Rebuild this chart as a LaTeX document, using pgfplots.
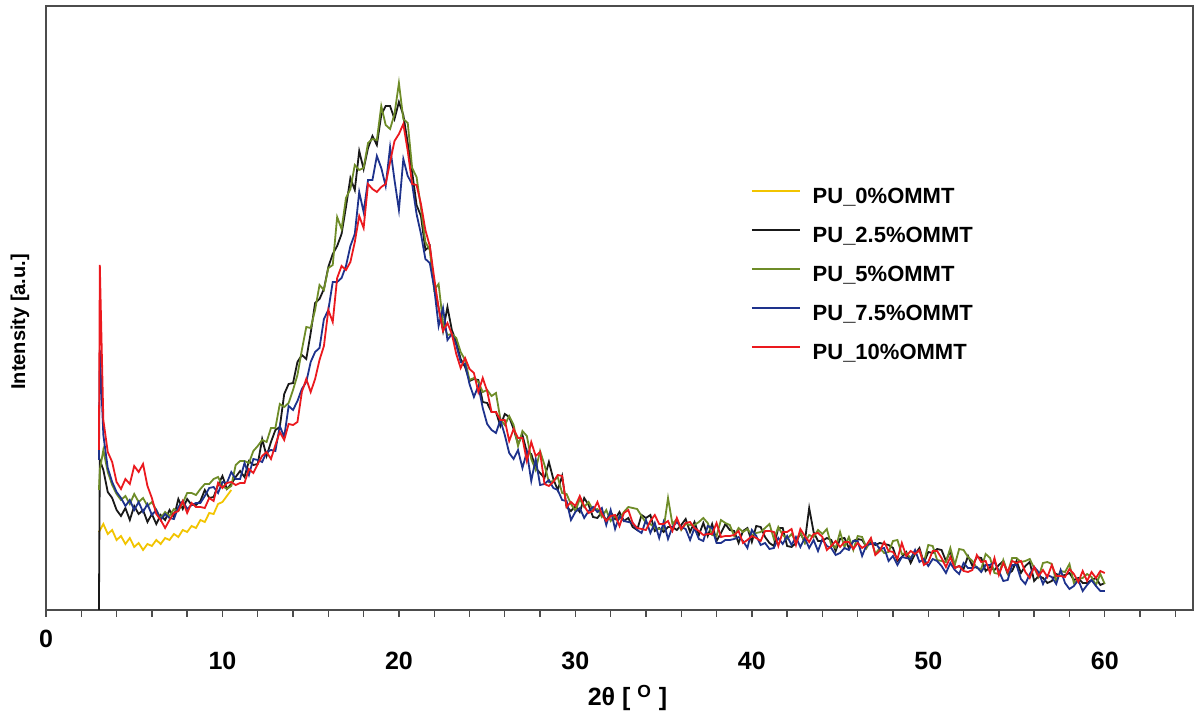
\documentclass[border=0pt]{standalone}
\usepackage{fontspec}
\setmainfont{Liberation Sans}
\usepackage{pgfplots}
\usepackage{pgfplotstable}
\pgfplotsset{compat=1.18}
\definecolor{cYel}{RGB}{242,196,0}
\definecolor{cBlk}{RGB}{25,25,25}
\definecolor{cGrn}{RGB}{110,140,40}
\definecolor{cBlu}{RGB}{30,50,140}
\definecolor{cRed}{RGB}{235,25,30}

\pgfplotstableread{
x y
3.00 78
3.25 86
3.50 76
3.75 80
4.00 70
4.25 74
4.50 66
4.75 72
5.00 63
5.25 67
5.50 60
5.75 66
6.00 64
6.25 70
6.50 66
6.75 72
7.00 70
7.25 76
7.50 73
7.75 80
8.00 78
8.25 84
8.50 82
8.75 90
9.00 88
9.25 97
9.50 96
9.75 106
10.00 108
10.25 114
10.50 120
}\yellowdata

\pgfplotstableread{
x blk grn blu red
3.00 0 120 150 160
3.05 150 140 260 345
3.25 140 160 175 190
3.50 118 138 142 158
3.75 112 125 128 148
4.00 100 116 118 128
4.25 94 110 112 121
4.50 102 114 104 131
4.75 90 106 110 126
5.00 104 116 100 144
5.25 96 108 108 138
5.50 100 112 98 146
5.75 88 104 106 124
6.00 96 108 95 112
6.25 86 100 100 96
6.50 95 92 90 90
6.75 90 98 96 82
7.00 100 94 92 90
7.25 93 101 91 97
7.50 111 99 103 99
7.75 101 107 109 109
8.00 111 117 101 97
8.25 105 117 105 107
8.50 105 115 107 103
8.75 109 121 107 103
9.00 120 126 114 102
9.25 112 126 122 112
9.50 113 131 123 109
9.75 125 133 117 127
10.00 134 124 128 122
10.25 121 121 127 127
10.50 126 124 138 128
10.75 133 145 131 125
11.00 139 149 131 127
11.25 133 149 147 127
11.50 149 147 135 141
11.75 145 159 151 137
12.00 146 164 150 146
12.25 171 170 148 154
12.50 154 168 158 158
12.75 168 182 160 151
13.00 180 182 159 165
13.25 183 206 184 178
13.50 216 203 173 170
13.75 226 207 204 186
14.00 227 220 200 185
14.25 248 235 209 188
14.50 255 260 221 218
14.75 251 283 228 231
15.00 277 282 248 218
15.25 307 300 258 231
15.50 311 325 262 250
15.75 321 320 291 264
16.00 343 342 300 300
16.25 356 345 328 288
16.50 364 393 328 332
16.75 376 381 332 344
17.00 403 412 344 340
17.25 432 421 364 348
17.50 420 445 376 368
17.75 459 440 418 394
18.00 441 442 398 382
18.25 462 467 430 426
18.50 474 471 430 421
18.75 465 470 454 418
19.00 495 504 442 423
19.25 504 485 424 426
19.50 504 481 463 448
19.75 491 496 430 469
20.00 508 527 400 476
20.25 495 491 451 486
20.50 467 487 434 459
20.75 438 442 426 426
21.00 405 433 396 425
21.25 394 402 376 406
21.50 360 368 351 380
21.75 364 360 347 364
22.00 324 320 322 332
22.25 302 326 284 302
22.50 279 287 302 279
22.75 303 275 270 287
23.00 280 276 276 276
23.25 268 272 265 256
23.50 251 258 248 242
23.75 243 250 246 252
24.00 229 230 226 241
24.25 231 232 213 237
24.50 230 228 224 218
24.75 208 218 202 232
25.00 207 220 186 219
25.25 198 214 180 198
25.50 198 217 177 198
25.75 184 191 190 190
26.00 196 185 175 190
26.25 193 194 157 169
26.50 181 185 151 181
26.75 166 164 160 172
27.00 175 179 142 172
27.25 158 174 158 149
27.50 156 151 129 168
27.75 142 140 151 154
28.00 137 159 125 158
28.25 132 145 126 126
28.50 148 128 130 124
28.75 131 129 122 128
29.00 120 133 120 135
29.25 134 117 110 134
29.50 103 116 109 103
29.75 99 106 90 108
30.00 104 99 98 104
30.25 98 111 102 114
30.50 112 103 92 104
30.75 105 108 99 97
31.00 93 100 103 99
31.25 92 101 98 108
31.50 98 93 102 96
31.75 89 100 85 89
32.00 98 89 100 94
32.25 91 94 81 95
32.50 98 91 94 84
32.75 89 98 89 97
33.00 92 103 88 100
33.25 83 102 87 87
33.50 80 101 80 82
33.75 95 94 77 81
34.00 92 87 90 80
34.25 95 86 77 89
34.50 79 82 87 95
34.75 82 81 72 86
35.00 78 81 88 86
35.25 83 112 71 89
35.50 83 86 83 79
35.75 80 91 88 92
36.00 85 80 83 81
36.25 91 86 81 87
36.50 78 85 70 88
36.75 88 85 82 82
37.00 75 88 71 79
37.25 87 92 69 75
37.50 74 87 84 76
37.75 86 75 82 76
38.00 69 74 67 87
38.25 77 90 67 73
38.50 86 87 70 74
38.75 80 85 70 74
39.00 79 74 71 75
39.25 67 82 73 79
39.50 79 78 69 67
39.75 82 81 62 70
40.00 68 75 80 74
40.25 84 77 74 72
40.50 83 78 65 69
40.75 73 82 67 79
41.00 67 86 61 79
41.25 64 71 62 78
41.50 82 83 72 64
41.75 82 75 66 78
42.00 64 71 74 78
42.25 63 76 65 81
42.50 67 68 73 65
42.75 77 78 63 81
43.00 68 67 72 74
43.25 102 75 62 68
43.50 78 73 70 76
43.75 69 80 59 77
44.00 69 76 71 73
44.25 72 81 64 60
44.50 70 65 62 64
44.75 59 62 55 69
45.00 71 78 57 63
45.25 72 63 62 68
45.50 62 73 60 68
45.75 69 60 69 61
46.00 71 74 69 67
46.25 70 73 54 62
46.50 63 62 65 65
46.75 68 71 66 72
47.00 65 56 67 55
47.25 67 62 61 59
47.50 66 57 62 68
47.75 65 58 49 59
48.00 62 69 54 58
48.25 49 70 45 51
48.50 53 56 53 67
48.75 58 57 52 54
49.00 47 52 51 59
49.25 56 57 60 56
49.50 62 59 48 60
49.75 47 48 51 45
50.00 58 65 44 48
50.25 57 64 51 59
50.50 61 50 49 59
50.75 60 49 44 52
51.00 49 48 37 43
51.25 59 62 47 53
51.50 42 45 40 42
51.75 44 61 36 44
52.00 41 60 47 39
52.25 54 53 42 38
52.50 44 49 42 40
52.75 53 42 43 55
53.00 52 41 38 48
53.25 39 56 45 49
53.50 43 52 45 37
53.75 40 37 48 52
54.00 45 36 39 35
54.25 49 50 29 47
54.50 36 37 30 38
54.75 39 52 45 49
55.00 49 52 45 47
55.25 37 48 31 49
55.50 44 49 26 38
55.75 48 51 36 32
56.00 29 42 43 43
56.25 34 33 38 34
56.50 32 47 26 40
56.75 27 48 35 33
57.00 29 46 33 45
57.25 36 29 26 34
57.50 34 39 40 34
57.75 35 38 27 33
58.00 37 46 21 41
58.25 30 27 24 36
58.50 32 31 30 28
58.75 27 32 19 39
59.00 27 36 25 29
59.25 30 33 30 38
59.50 32 25 24 32
59.75 25 36 19 39
60.00 27 26 19 37
}\maindata

\begin{document}
\begin{tikzpicture}
\begin{axis}[
  at={(0,0)}, anchor=south west,
  scale only axis, width=573.5pt, height=302pt,
  xmin=0, xmax=65, ymin=0, ymax=604,
  axis line style={draw=black!70, line width=0.8pt},
  xtick={10,20,...,60},
  minor xtick={2,4,...,64},
  extra x ticks={0},
  extra x tick style={xticklabel style={yshift=11pt}},
  ytick=\empty,
  xtick pos=bottom, tick align=outside,
  major tick length=3.5pt, minor tick length=3.5pt,
  tick style={black!70, line width=0.7pt},
  /pgf/number format/assume math mode=true,
  xticklabel style={anchor=center, yshift=-22pt, font=\fontsize{12.5}{14}\selectfont\bfseries},
  xlabel={2θ [ \textsuperscript{O} ]},
  xlabel style={at={(axis description cs:0.507,0)}, anchor=center, yshift=-44pt, font=\fontsize{12.5}{14}\selectfont\bfseries},
  ylabel={Intensity [a.u.]},
  ylabel style={at={(axis description cs:-0.0227,0.477)}, anchor=center, font=\fontsize{10}{12}\selectfont\bfseries},
  legend style={at={(axis description cs:0.609,0.707)}, anchor=north west, draw=none, fill=none,
    font=\fontsize{11}{13}\selectfont\bfseries, row sep=9.5pt, column sep=6pt,
    nodes={inner sep=0pt, text height=8pt, text depth=2pt}},
  legend cell align=left,
  legend image code/.code={\draw[#1] (0pt,3pt) -- (24pt,3pt);},
  every axis plot/.append style={line width=0.9pt},
]
\addplot[cYel] table[x=x, y=y] {\yellowdata};
\addlegendentry{PU\_0\%OMMT}
\addplot[cBlk] table[x=x, y=blk] {\maindata};
\addlegendentry{PU\_2.5\%OMMT}
\addplot[cGrn] table[x=x, y=grn] {\maindata};
\addlegendentry{PU\_5\%OMMT}
\addplot[cBlu] table[x=x, y=blu] {\maindata};
\addlegendentry{PU\_7.5\%OMMT}
\addplot[cRed] table[x=x, y=red] {\maindata};
\addlegendentry{PU\_10\%OMMT}
\end{axis}
\pgfresetboundingbox
\path[use as bounding box] (-23pt,-56pt) rectangle (575pt,305pt);
\end{tikzpicture}
\end{document}
